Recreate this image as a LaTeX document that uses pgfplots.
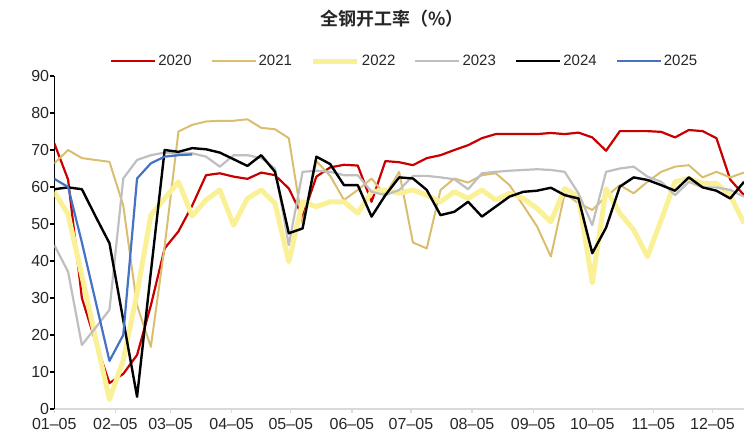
\documentclass[border=0pt]{standalone}
\usepackage{pgfplots}
\pgfplotsset{compat=1.18}
\usepackage{fontspec}
\setmainfont{Liberation Sans}
\newfontfamily\cjk{Noto Sans CJK SC Bold}
\definecolor{c20}{RGB}{200,0,0}
\definecolor{c21}{RGB}{218,190,112}
\definecolor{c22}{RGB}{250,240,150}
\definecolor{c23}{RGB}{191,191,191}
\definecolor{c24}{RGB}{0,0,0}
\definecolor{c25}{RGB}{68,114,196}
\definecolor{axgray}{RGB}{217,217,217}
\begin{document}
\begin{tikzpicture}
\path[use as bounding box] (-54.3pt,-27pt) rectangle (689.7pt,409pt);
\begin{axis}[
  at={(0pt,0pt)}, anchor=south west,
  scale only axis, width=689.7pt, height=333pt,
  xmin=5, xmax=355, ymin=0, ymax=90,
  axis x line=bottom, axis y line=left,
  x axis line style={draw=axgray, line width=1.3pt, -},
  y axis line style={draw=black, line width=1.3pt, -},
  xtick={5,36,64,95,125,156,186,217,248,278,309,339},
  xticklabels={01\textendash05,02\textendash05,03\textendash05,04\textendash05,05\textendash05,06\textendash05,07\textendash05,08\textendash05,09\textendash05,10\textendash05,11\textendash05,12\textendash05},
  ytick={0,10,...,90},
  tick align=outside, major tick length=4pt,
  xtick style={draw=axgray, line width=1.3pt},
  ytick style={draw=black, line width=1.3pt},
  /pgf/number format/assume math mode=true,
  tick label style={font=\fontsize{16}{16}\selectfont, text=black!85},
  yticklabel style={inner sep=1pt},
  xticklabel style={inner sep=2pt, yshift=-3pt},
  legend columns=6,
  legend style={draw=none, fill=none, at={(axis description cs:0.508,1.045)}, anchor=center,
    font=\fontsize{15}{15}\selectfont, text=black!85,
    /tikz/every even column/.append style={column sep=17pt},
    nodes={inner sep=2pt}},
  legend image code/.code={\draw[#1] (0pt,0pt) -- (44pt,0pt);},
  every axis plot/.append style={line join=round},
]
\addplot[c20, line width=2.2pt] coordinates {
(5,71.8)(12,62)(19,30)(26,18)(33,7)(40,9.5)(47,14.6)(54,28)(61,43.4)(68,48)(75,55)(82,63.2)(89,63.7)(96,62.8)(103,62.2)(110,63.9)(117,63.2)(124,59.6)(131,52)(138,62.8)(145,65.3)(152,66)(159,65.8)(166,56)(173,67)(180,66.7)(187,65.9)(194,67.8)(201,68.6)(208,70)(215,71.3)(222,73.2)(229,74.3)(236,74.3)(243,74.3)(250,74.3)(257,74.6)(264,74.3)(271,74.7)(278,73.4)(285,69.8)(292,75.1)(299,75.1)(306,75.1)(313,74.9)(320,73.4)(327,75.4)(334,75.1)(341,73.2)(348,62)(355,57.8)};
\addlegendentry{2020}
\addplot[c21, line width=2pt] coordinates {
(5,66.4)(12,70)(19,67.8)(26,67.3)(33,66.8)(40,55)(47,28)(54,16.8)(61,44)(68,75)(75,76.8)(82,77.7)(89,77.9)(96,77.9)(103,78.3)(110,76)(117,75.6)(124,73.2)(131,50)(138,67)(145,63)(152,56.5)(159,59.2)(166,62.3)(173,57.8)(180,64.1)(187,45)(194,43.4)(201,59.2)(208,62.3)(215,61.2)(222,63.2)(229,63.7)(236,60.5)(243,55)(250,49.3)(257,41.2)(264,58.3)(271,55.6)(278,53.8)(285,57.4)(292,60.5)(299,58.3)(306,61.4)(313,64.1)(320,65.5)(327,65.9)(334,62.6)(341,64.1)(348,62.6)(355,63.9)};
\addlegendentry{2021}
\addplot[c22, line width=5pt] coordinates {
(5,58.7)(12,52.6)(19,36)(26,19)(33,2.6)(40,13.2)(47,31.3)(54,52.4)(61,56.9)(68,61.4)(75,52.2)(82,56.5)(89,59.2)(96,49.7)(103,56.9)(110,59.2)(117,55.6)(124,39.8)(131,56)(138,54.7)(145,56)(152,56)(159,52.9)(166,58.7)(173,59.2)(180,58.3)(187,59.2)(194,57.8)(201,56)(208,58.7)(215,56.9)(222,59.2)(229,56.5)(236,58.3)(243,56.9)(250,54.2)(257,50.6)(264,59.6)(271,57.4)(278,34.2)(285,59.5)(292,52.9)(299,48.4)(306,41.2)(313,51.1)(320,61.4)(327,62.3)(334,61)(341,61)(348,57.8)(355,50.2)};
\addlegendentry{2022}
\addplot[c23, line width=2.2pt] coordinates {
(5,44.3)(12,37.1)(19,17.3)(26,22)(33,26.8)(40,62.3)(47,67.3)(54,68.6)(61,69.3)(68,69)(75,69.1)(82,68.2)(89,65.5)(96,68.6)(103,68.6)(110,67.8)(117,65)(124,44.3)(131,64.1)(138,64.4)(145,64.1)(152,63.2)(159,63.2)(166,58.7)(173,57.8)(180,59.2)(187,63)(194,63)(201,62.6)(208,62.1)(215,59.4)(222,63.7)(229,64.1)(236,64.4)(243,64.6)(250,64.8)(257,64.6)(264,64.1)(271,58.3)(278,49.7)(285,64.1)(292,65)(299,65.5)(306,62.8)(313,61.4)(320,57.8)(327,61.4)(334,59.9)(341,59.9)(348,59.2)(355,57.4)};
\addlegendentry{2023}
\addplot[c24, line width=2.4pt] coordinates {
(5,59.4)(12,59.9)(19,59.4)(26,52)(33,44.8)(40,24)(47,3.3)(54,37)(61,70)(68,69.5)(75,70.5)(82,70.2)(89,69.3)(96,67.5)(103,65.7)(110,68.6)(117,64.1)(124,47.5)(131,48.8)(138,68.2)(145,66.2)(152,60.5)(159,60.5)(166,52)(173,57.8)(180,62.6)(187,62.3)(194,59.2)(201,52.4)(208,53.3)(215,56)(222,52)(229,54.7)(236,57.4)(243,58.7)(250,59)(257,59.8)(264,57.8)(271,56.9)(278,42.1)(285,49)(292,60.1)(299,62.6)(306,61.9)(313,60.5)(320,59)(327,62.6)(334,59.9)(341,59)(348,56.9)(355,61.4)};
\addlegendentry{2024}
\addplot[c25, line width=2.2pt] coordinates {
(5,62.2)(12,60)(19,45)(26,29)(33,13)(40,20)(47,62.3)(54,66.4)(61,68.2)(68,68.6)(75,68.8)};
\addlegendentry{2025}
\end{axis}
\node[font=\cjk\fontsize{18}{18}\selectfont, text=black!85] at (337.7pt,390pt) {全钢开工率（\%）};
\end{tikzpicture}
\end{document}
